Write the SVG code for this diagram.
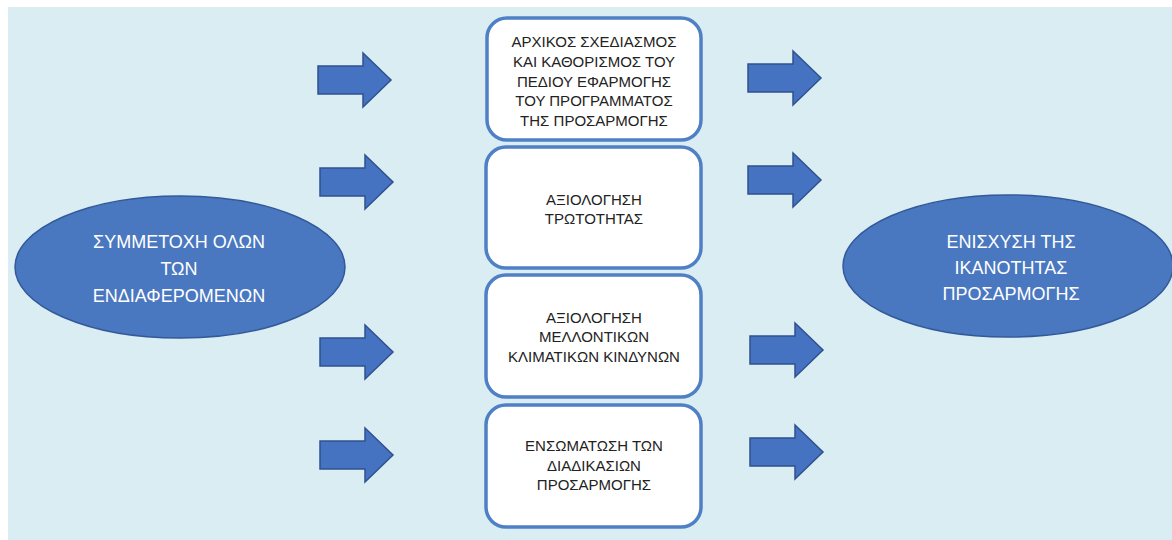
<svg xmlns="http://www.w3.org/2000/svg" width="1172" height="540" viewBox="0 0 1172 540">
<defs>
<style>
.bg{fill:#daedf3}
.box{fill:#ffffff;stroke:#4f80c6;stroke-width:3.5}
.ell{fill:#4a78c0;stroke:#32599a;stroke-width:1.5}
.arr{fill:#4573c2;stroke:#2f528f;stroke-width:1.5;stroke-linejoin:miter}
.bt{font-family:"Liberation Sans",Arial,sans-serif;font-size:15px;fill:#222222;text-anchor:middle}
.et{font-family:"Liberation Sans",Arial,sans-serif;font-size:18px;fill:#ffffff;text-anchor:middle}
</style>
<path id="ar" d="M0,-14 H45 V-27 L73,0 L45,27 V14 H0 Z"/>
</defs>
<rect x="0" y="0" width="1172" height="540" fill="#ffffff"/>
<rect class="bg" x="8" y="7" width="1164" height="533"/>

<g id="connectors">
<use href="#ar" class="arr" transform="translate(318,80)"/>
<use href="#ar" class="arr" transform="translate(320,182)"/>
<use href="#ar" class="arr" transform="translate(320,352)"/>
<use href="#ar" class="arr" transform="translate(320,455)"/>
<use href="#ar" class="arr" transform="translate(748,78)"/>
<use href="#ar" class="arr" transform="translate(748,180)"/>
<use href="#ar" class="arr" transform="translate(750,350)"/>
<use href="#ar" class="arr" transform="translate(750,452)"/>
</g>

<g id="participation">
<ellipse class="ell" cx="180" cy="267" rx="165" ry="71"/>
<text class="et" x="179" y="248">ΣΥΜΜΕΤΟΧΗ ΟΛΩΝ</text>
<text class="et" x="179" y="275">ΤΩΝ</text>
<text class="et" x="179" y="302">ΕΝΔΙΑΦΕΡΟΜΕΝΩΝ</text>
</g>

<g id="capacity">
<ellipse class="ell" cx="1008" cy="266" rx="165" ry="71"/>
<text class="et" x="1011" y="248">ΕΝΙΣΧΥΣΗ ΤΗΣ</text>
<text class="et" x="1011" y="274">ΙΚΑΝΟΤΗΤΑΣ</text>
<text class="et" x="1011" y="300">ΠΡΟΣΑΡΜΟΓΗΣ</text>
</g>

<g id="step1">
<rect class="box" x="487" y="18" width="214" height="122" rx="20"/>
<text class="bt" x="594" y="47">ΑΡΧΙΚΟΣ ΣΧΕΔΙΑΣΜΟΣ</text>
<text class="bt" x="594" y="67">ΚΑΙ ΚΑΘΟΡΙΣΜΟΣ ΤΟΥ</text>
<text class="bt" x="594" y="87">ΠΕΔΙΟΥ ΕΦΑΡΜΟΓΗΣ</text>
<text class="bt" x="594" y="106">ΤΟΥ ΠΡΟΓΡΑΜΜΑΤΟΣ</text>
<text class="bt" x="594" y="126">ΤΗΣ ΠΡΟΣΑΡΜΟΓΗΣ</text>
</g>

<g id="step2">
<rect class="box" x="486" y="147" width="215" height="121" rx="20"/>
<text class="bt" x="594" y="205">ΑΞΙΟΛΟΓΗΣΗ</text>
<text class="bt" x="594" y="224">ΤΡΩΤΟΤΗΤΑΣ</text>
</g>

<g id="step3">
<rect class="box" x="486" y="275" width="215" height="122" rx="20"/>
<text class="bt" x="594" y="323">ΑΞΙΟΛΟΓΗΣΗ</text>
<text class="bt" x="594" y="342">ΜΕΛΛΟΝΤΙΚΩΝ</text>
<text class="bt" x="594" y="362">ΚΛΙΜΑΤΙΚΩΝ ΚΙΝΔΥΝΩΝ</text>
</g>

<g id="step4">
<rect class="box" x="486" y="405" width="215" height="122" rx="20"/>
<text class="bt" x="594" y="451">ΕΝΣΩΜΑΤΩΣΗ ΤΩΝ</text>
<text class="bt" x="594" y="471">ΔΙΑΔΙΚΑΣΙΩΝ</text>
<text class="bt" x="594" y="490">ΠΡΟΣΑΡΜΟΓΗΣ</text>
</g>
</svg>
